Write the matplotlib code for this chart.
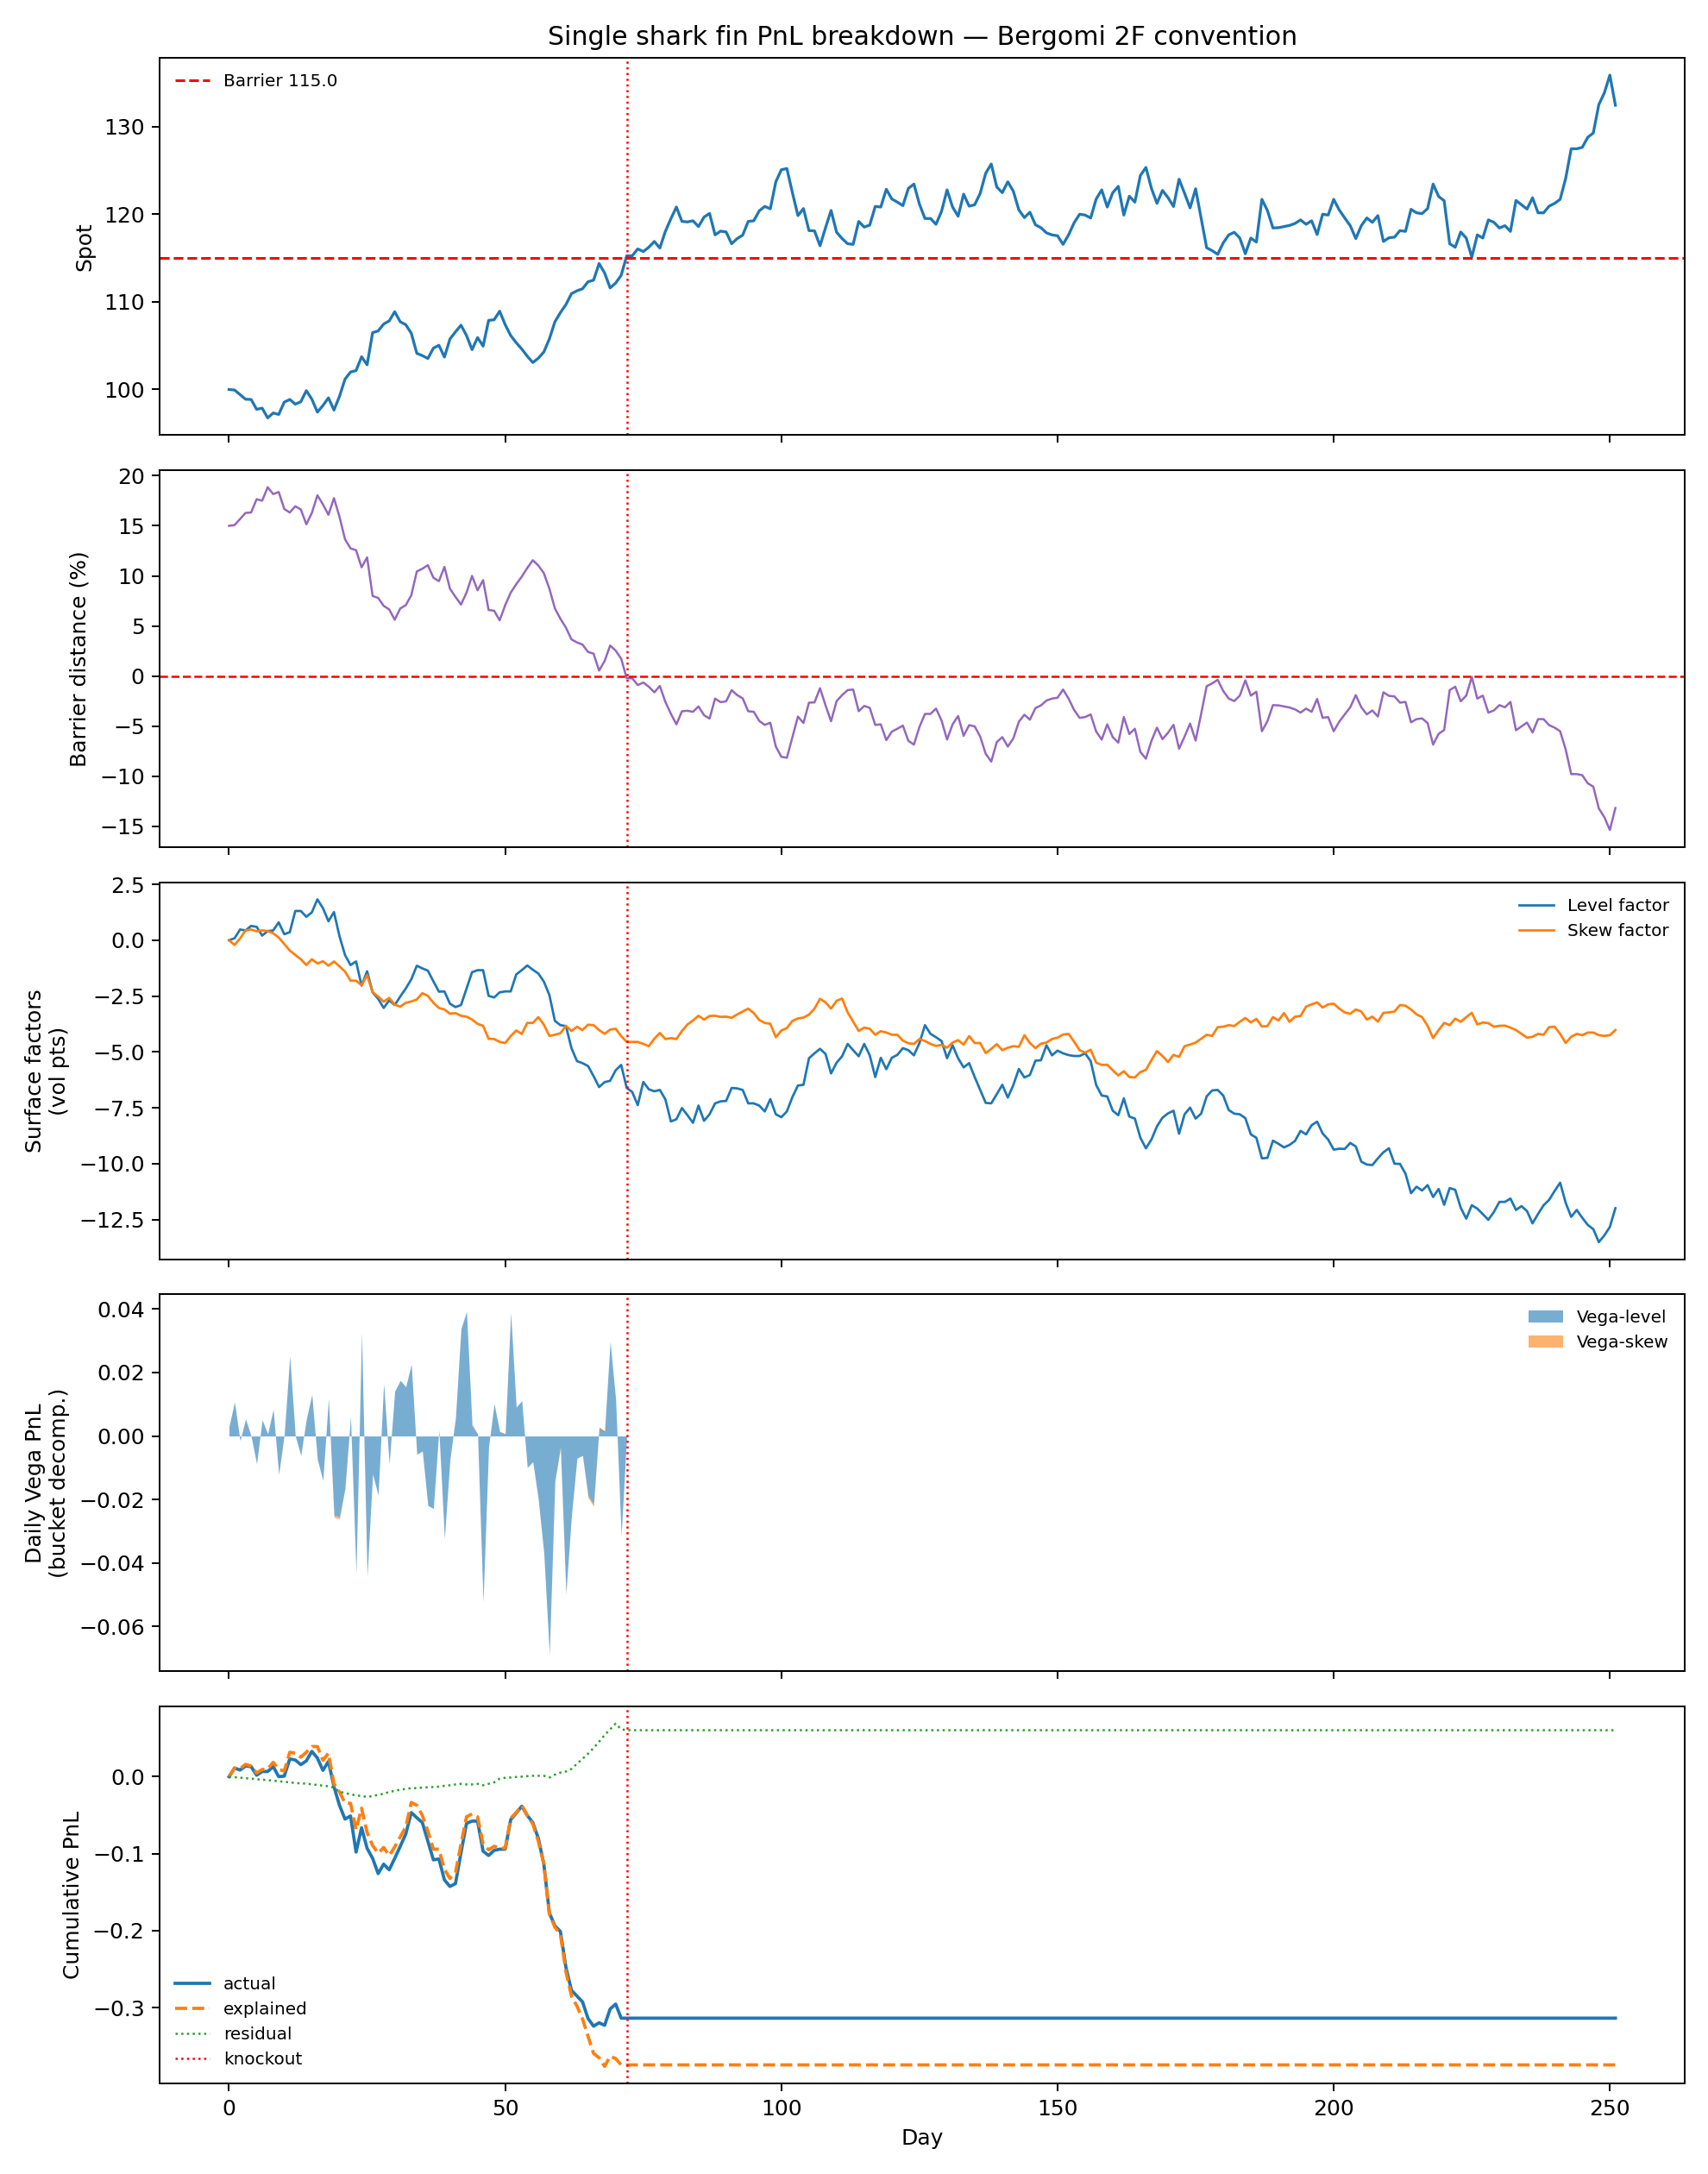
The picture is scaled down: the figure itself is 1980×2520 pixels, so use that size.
# -*- coding: utf-8 -*-
"""
Single shark fin PnL breakdown (Bergomi 2F convention)
five stacked panels: spot, barrier distance, surface factors, daily vega, cumulative pnl
"""

import numpy as np
import pandas as pd
import matplotlib
matplotlib.use('Agg')
import matplotlib.pyplot as plt

############################################################################

'''Data read off the reference chart'''

###########################################################################

barrier = 115.0
ko_day = 72

spot = [100.0, 99.94, 99.41, 98.89, 98.86, 97.74, 97.87, 96.76, 97.32, 97.15,
        98.56, 98.86, 98.33, 98.60, 99.87, 98.89, 97.42, 98.17, 99.05, 97.65,
        99.22, 101.18, 102.0, 102.16, 103.74, 102.82, 106.49, 106.68, 107.47, 107.83,
        108.88, 107.73, 107.40, 106.42, 104.13, 103.87, 103.54, 104.72, 105.05, 103.70,
        105.77, 106.58, 107.34, 106.16, 104.55, 105.93, 104.95, 107.89, 107.96, 108.94,
        107.40, 106.16, 105.34, 104.62, 103.80, 103.08, 103.57, 104.29, 105.77, 107.73,
        108.78, 109.70, 110.94, 111.27, 111.5, 112.3, 112.48, 114.38, 113.3, 111.6,
        112.15, 113.04, 115.26, 115.26, 116.05, 115.75, 116.24, 116.9, 116.15, 118.05,
        119.5, 120.83, 119.19, 119.13, 119.26, 118.6, 119.68, 120.1, 117.65, 118.08,
        117.98, 116.64, 117.23, 117.62, 119.19, 119.26, 120.4, 120.9, 120.63, 123.71,
        125.09, 125.22, 122.47, 119.85, 120.66, 118.14, 118.11, 116.41, 118.47, 120.44,
        117.95, 117.23, 116.64, 116.57, 119.19, 118.54, 118.77, 120.9, 120.83, 122.86,
        121.75, 121.39, 120.99, 122.96, 123.45, 121.16, 119.52, 119.52, 118.86, 120.34,
        122.79, 120.83, 119.78, 122.3, 120.93, 121.09, 122.4, 124.69, 125.74, 123.12,
        122.47, 123.71, 122.63, 120.5, 119.62, 120.24, 118.8, 118.47, 117.88, 117.65,
        117.55, 116.57, 117.65, 119.03, 120.01, 119.91, 119.58, 121.75, 122.79, 120.83,
        122.47, 123.19, 119.91, 122.07, 121.39, 124.43, 125.35, 122.96, 121.25, 122.73,
        121.91, 120.89, 124.0, 122.4, 120.73, 122.92, 119.52, 116.18, 115.85, 115.43,
        116.74, 117.65, 117.95, 117.29, 115.49, 117.29, 116.83, 121.71, 120.44, 118.44,
        118.47, 118.6, 118.73, 118.96, 119.36, 118.86, 119.26, 117.69, 120.01, 119.91,
        121.71, 120.5, 119.58, 118.7, 117.23, 118.7, 119.58, 119.09, 119.85, 116.9,
        117.32, 117.39, 118.14, 118.05, 120.57, 120.17, 120.08, 120.66, 123.45, 122.04,
        121.55, 116.64, 116.24, 117.98, 117.29, 115.1, 117.65, 117.29, 119.36, 119.09,
        118.44, 118.7, 118.05, 121.58, 121.09, 120.6, 121.88, 120.17, 120.17, 120.93,
        121.25, 121.71, 124.1, 127.48, 127.48, 127.64, 128.79, 129.28, 132.52, 133.86,
        135.89, 132.45]

level_factor = [0.0, 0.09, 0.48, 0.44, 0.64, 0.60, 0.21, 0.41, 0.44, 0.80,
                0.27, 0.36, 1.31, 1.31, 1.05, 1.25, 1.83, 1.44, 0.85, 1.26,
                0.18, -0.66, -1.11, -0.95, -2.03, -1.39, -2.33, -2.62, -3.03, -2.69,
                -2.90, -2.52, -2.16, -1.75, -1.14, -1.26, -1.36, -1.84, -2.30, -2.29,
                -2.84, -2.99, -2.90, -2.16, -1.43, -1.34, -1.34, -2.49, -2.56, -2.33,
                -2.29, -2.29, -1.53, -1.34, -1.13, -1.32, -1.49, -1.85, -2.45, -3.61,
                -3.80, -3.84, -4.83, -5.41, -5.50, -5.63, -6.08, -6.57, -6.35, -6.29,
                -5.82, -5.58, -6.61, -6.79, -7.38, -6.34, -6.67, -6.76, -6.70, -7.12,
                -8.11, -8.01, -7.51, -7.83, -8.17, -7.40, -8.08, -7.79, -7.30, -7.21,
                -7.19, -6.61, -6.63, -6.70, -7.30, -7.30, -7.40, -7.66, -7.11, -7.79,
                -7.92, -7.66, -7.02, -6.50, -6.47, -5.28, -5.06, -4.86, -5.09, -5.96,
                -5.48, -5.19, -4.64, -4.92, -5.19, -4.64, -5.15, -6.12, -5.26, -5.77,
                -5.26, -5.13, -4.83, -4.92, -5.15, -4.60, -3.80, -4.19, -4.34, -4.51,
                -5.28, -4.70, -5.28, -5.69, -5.50, -6.12, -6.70, -7.28, -7.30, -6.89,
                -6.47, -7.04, -6.48, -5.76, -6.14, -6.03, -5.39, -5.37, -4.70, -5.15,
                -4.94, -5.06, -5.14, -5.18, -5.18, -5.06, -5.41, -6.48, -6.95, -6.99,
                -7.63, -7.83, -7.08, -7.89, -7.98, -8.84, -9.31, -8.92, -8.33, -7.94,
                -7.75, -7.63, -8.66, -7.79, -7.49, -7.98, -7.76, -6.99, -6.72, -6.70,
                -6.95, -7.60, -7.76, -7.79, -7.96, -8.69, -8.84, -9.76, -9.74, -8.97,
                -9.11, -9.27, -9.16, -8.98, -8.53, -8.69, -8.28, -8.12, -8.65, -8.92,
                -9.37, -9.33, -9.34, -9.07, -9.23, -9.91, -10.04, -10.06, -9.76, -9.49,
                -9.31, -10.0, -10.01, -10.45, -11.32, -11.03, -11.20, -10.96, -11.49, -11.13,
                -11.84, -11.09, -11.17, -11.97, -12.46, -11.86, -12.01, -12.26, -12.51, -12.16,
                -11.71, -11.71, -11.56, -12.07, -11.90, -12.12, -12.67, -12.25, -11.86, -11.62,
                -11.22, -10.85, -11.75, -12.38, -12.07, -12.42, -12.74, -12.93, -13.51, -13.21,
                -12.83, -11.99]

skew_factor = [0.0, -0.21, 0.08, 0.44, 0.48, 0.40, 0.44, 0.41, 0.31, 0.12,
               -0.17, -0.46, -0.66, -0.85, -1.11, -0.85, -1.04, -0.94, -1.14, -0.95,
               -1.17, -1.40, -1.81, -1.81, -2.01, -1.56, -2.33, -2.52, -2.75, -2.58,
               -2.88, -2.97, -2.80, -2.74, -2.65, -2.37, -2.49, -2.80, -3.03, -3.10,
               -3.29, -3.26, -3.38, -3.42, -3.55, -3.74, -3.83, -4.41, -4.42, -4.55,
               -4.60, -4.29, -4.04, -4.19, -3.70, -3.70, -3.44, -3.78, -4.28, -4.23,
               -4.16, -3.83, -4.06, -3.87, -4.02, -3.78, -3.80, -4.02, -4.19, -4.00,
               -3.96, -4.29, -4.55, -4.55, -4.55, -4.64, -4.74, -4.41, -4.15, -4.42,
               -4.38, -4.42, -4.06, -3.77, -3.59, -3.38, -3.55, -3.39, -3.38, -3.43,
               -3.42, -3.47, -3.32, -3.19, -3.06, -3.26, -3.57, -3.70, -3.74, -4.34,
               -4.04, -3.93, -3.61, -3.50, -3.46, -3.33, -3.06, -2.62, -2.78, -3.06,
               -2.71, -2.61, -3.23, -3.64, -4.06, -3.91, -3.96, -4.23, -4.07, -4.13,
               -4.23, -4.23, -4.49, -4.61, -4.64, -4.42, -4.51, -4.64, -4.73, -4.68,
               -4.81, -4.58, -4.47, -4.67, -4.29, -4.60, -4.60, -5.05, -4.86, -4.65,
               -4.92, -4.81, -4.74, -4.77, -4.25, -4.60, -4.83, -4.63, -4.58, -4.42,
               -4.36, -4.22, -4.19, -4.54, -4.92, -5.03, -4.90, -5.48, -5.58, -5.57,
               -5.82, -6.05, -5.86, -6.12, -6.14, -5.90, -5.80, -5.37, -4.96, -5.18,
               -5.45, -5.13, -5.22, -4.74, -4.67, -4.58, -4.41, -4.23, -4.28, -3.89,
               -3.87, -3.80, -3.84, -3.65, -3.48, -3.68, -3.52, -3.86, -3.84, -3.44,
               -3.59, -3.26, -3.65, -3.42, -3.39, -2.97, -2.87, -2.78, -3.01, -2.87,
               -2.84, -3.06, -3.23, -3.29, -3.10, -3.19, -3.55, -3.42, -3.64, -3.25,
               -3.23, -3.19, -2.90, -2.93, -3.10, -3.32, -3.44, -3.83, -4.38, -4.02,
               -3.70, -3.80, -3.51, -3.65, -3.44, -3.25, -3.77, -3.68, -3.71, -3.87,
               -3.83, -3.82, -3.91, -4.02, -4.19, -4.36, -4.32, -4.19, -4.23, -3.89,
               -3.87, -4.19, -4.60, -4.32, -4.19, -4.25, -4.13, -4.13, -4.25, -4.28,
               -4.25, -4.02]

# daily vega pnl only lives until knockout (days 0..72)
vega_level = [0.003, 0.0107, -0.0015, 0.0054, 0.0, -0.0088, 0.0051, 0.0007, 0.0084, -0.0121,
              0.0005, 0.0252, 0.0, -0.0061, 0.0053, 0.0131, -0.0074, -0.014, 0.0119, -0.0249,
              -0.0255, -0.0165, 0.0062, -0.0432, 0.0326, -0.0441, -0.012, -0.0186, 0.0166, -0.0088,
              0.0141, 0.0175, 0.0155, 0.0226, -0.0058, -0.0047, -0.0219, -0.0228, 0.002, -0.0323,
              -0.0074, 0.0057, 0.0338, 0.0392, 0.0034, 0.0007, -0.0523, -0.0034, 0.0102, 0.0014,
              0.0007, 0.0388, 0.0091, 0.0111, -0.0099, -0.0081, -0.020, -0.037, -0.0687, -0.0142,
              -0.0035, -0.0494, -0.025, -0.007, -0.0061, -0.0188, -0.0215, 0.0027, 0.0016, 0.0297,
              0.0116, -0.0314, 0.0]

vega_skew = [0.0, 0.0, 0.0, 0.0, 0.0, 0.0, 0.0, 0.0, 0.0, 0.0,
             0.0, 0.0, 0.0, 0.0, 0.0, 0.0, 0.0, 0.0, 0.0, -0.0006,
             -0.0006, 0.0, 0.0, 0.0, 0.0, 0.0, 0.0, 0.0, 0.0, 0.0,
             0.0, 0.0, 0.0, 0.0, 0.0, 0.0, 0.0, 0.0, 0.0, 0.0,
             0.0, 0.0, 0.0, 0.0, -0.0003, 0.0, 0.0, 0.0, 0.0, 0.0,
             -0.0004, 0.0, 0.0, 0.0, 0.0, 0.0, 0.0, 0.0, 0.0, 0.0,
             -0.0005, -0.0005, 0.0, 0.0, 0.0, -0.0006, -0.0006, -0.0004, -0.0004, 0.0,
             0.0, 0.0, 0.0]

cum_actual = [0.0, 0.0112, 0.0086, 0.0138, 0.0130, 0.0019, 0.0067, 0.0067, 0.0130, 0.0,
              0.0007, 0.0231, 0.0216, 0.0156, 0.0205, 0.0328, 0.0242, 0.0082, 0.0197, -0.0130,
              -0.0372, -0.0551, -0.0510, -0.0980, -0.0663, -0.0931, -0.1061, -0.1259, -0.1136, -0.1210,
              -0.1061, -0.0905, -0.0745, -0.0466, -0.0533, -0.0596, -0.0838, -0.1080, -0.1069, -0.1341,
              -0.1426, -0.1389, -0.0987, -0.0607, -0.0577, -0.0577, -0.0968, -0.1024, -0.0957, -0.0942,
              -0.0942, -0.0559, -0.0473, -0.0384, -0.0503, -0.0596, -0.0801, -0.1136, -0.1769, -0.1937,
              -0.2011, -0.2477, -0.2775, -0.2849, -0.2924, -0.3140, -0.3240, -0.3196, -0.3229, -0.3017,
              -0.2953, -0.3136, -0.3136]

cum_explained = [0.0, 0.0112, 0.0104, 0.0160, 0.0138, 0.0048, 0.0093, 0.0101, 0.0186, 0.0093,
                 0.0074, 0.0317, 0.0305, 0.0253, 0.0317, 0.0391, 0.0391, 0.0212, 0.0305, -0.0093,
                 -0.0197, -0.0343, -0.0346, -0.0689, -0.0410, -0.0726, -0.0894, -0.0994, -0.0920, -0.1024,
                 -0.0912, -0.0782, -0.0652, -0.0335, -0.0372, -0.0503, -0.0708, -0.0942, -0.0942, -0.1203,
                 -0.1322, -0.1248, -0.0875, -0.0521, -0.0484, -0.0521, -0.0875, -0.0950, -0.0905, -0.0920,
                 -0.0931, -0.0540, -0.0466, -0.0372, -0.0503, -0.0615, -0.0838, -0.1136, -0.1788, -0.1955,
                 -0.2048, -0.2533, -0.2849, -0.2980, -0.3147, -0.3371, -0.3594, -0.3650, -0.3762, -0.3631,
                 -0.3661, -0.3743, -0.3743]

cum_residual = [0.0, -0.0007, -0.0013, -0.0020, -0.0026, -0.0033, -0.0040, -0.0045, -0.0052, -0.0060,
                -0.0067, -0.0075, -0.0082, -0.0088, -0.0090, -0.0100, -0.0108, -0.0115, -0.0125, -0.0142,
                -0.0197, -0.0212, -0.0231, -0.0242, -0.0253, -0.0261, -0.0253, -0.0235, -0.0223, -0.0197,
                -0.0186, -0.0168, -0.0160, -0.0149, -0.0149, -0.0142, -0.0138, -0.0134, -0.0130, -0.0119,
                -0.0112, -0.0101, -0.0093, -0.0101, -0.0101, -0.0093, -0.0112, -0.0093, -0.0074, -0.0026,
                -0.0015, -0.0011, -0.0004, 0.0, 0.0007, 0.0011, 0.0011, 0.0011, -0.0011, 0.0026,
                0.0052, 0.0067, 0.0101, 0.0168, 0.0231, 0.0298, 0.0372, 0.0454, 0.0540, 0.0615,
                0.0689, 0.0615, 0.0603]

############################################################################

'''Plotting'''

###########################################################################

days = np.arange(len(spot))
vdays = np.arange(len(vega_level))

# barrier distance in % of spot
dist = (barrier - np.array(spot)) / np.array(spot) * 100

# pnl is frozen after knockout -> hold last value until the end
pnl = pd.DataFrame({'actual': cum_actual, 'explained': cum_explained,
                    'residual': cum_residual}).reindex(days).ffill()

fig, axes = plt.subplots(5, 1, figsize=(11, 14), sharex=True)

ax1 = axes[0]
ax1.plot(days, spot, color='tab:blue', lw=1.3)
ax1.axhline(barrier, color='red', ls='--', lw=1.2, label='Barrier {}'.format(barrier))
ax1.axvline(ko_day, color='red', ls=':', lw=1)
ax1.set_ylabel('Spot')
ax1.set_title('Single shark fin PnL breakdown — Bergomi 2F convention')
ax1.legend(loc='upper left', fontsize=8, frameon=False)

ax2 = axes[1]
ax2.plot(days, dist, color='tab:purple', lw=1.0)
ax2.axhline(0, color='red', ls='--', lw=1)
ax2.axvline(ko_day, color='red', ls=':', lw=1)
ax2.set_ylabel('Barrier distance (%)')

ax3 = axes[2]
ax3.plot(days, level_factor, color='tab:blue', lw=1.1, label='Level factor')
ax3.plot(days, skew_factor, color='tab:orange', lw=1.1, label='Skew factor')
ax3.axvline(ko_day, color='red', ls=':', lw=1)
ax3.set_ylabel('Surface factors\n(vol pts)')
ax3.legend(loc='upper right', fontsize=8, frameon=False)

ax4 = axes[3]
vl = np.array(vega_level)
vs = np.array(vega_skew)
ax4.fill_between(vdays, 0, vl, color='tab:blue', alpha=0.6, lw=0, label='Vega-level')
ax4.fill_between(vdays, vl, vl + vs, color='tab:orange', alpha=0.6, lw=0, label='Vega-skew')
ax4.axvline(ko_day, color='red', ls=':', lw=1)
ax4.set_ylabel('Daily Vega PnL\n(bucket decomp.)')
ax4.legend(loc='upper right', fontsize=8, frameon=False)

ax5 = axes[4]
ax5.plot(days, pnl['actual'], color='tab:blue', lw=1.5, label='actual')
ax5.plot(days, pnl['explained'], color='tab:orange', ls='--', lw=1.5, label='explained')
ax5.plot(days, pnl['residual'], color='tab:green', ls=':', lw=1.0, label='residual')
ax5.axvline(ko_day, color='red', ls=':', lw=1, label='knockout')
ax5.set_ylabel('Cumulative PnL')
ax5.set_xlabel('Day')
ax5.legend(loc='lower left', fontsize=8, frameon=False)

plt.tight_layout()
plt.savefig('out.png', dpi=180)
